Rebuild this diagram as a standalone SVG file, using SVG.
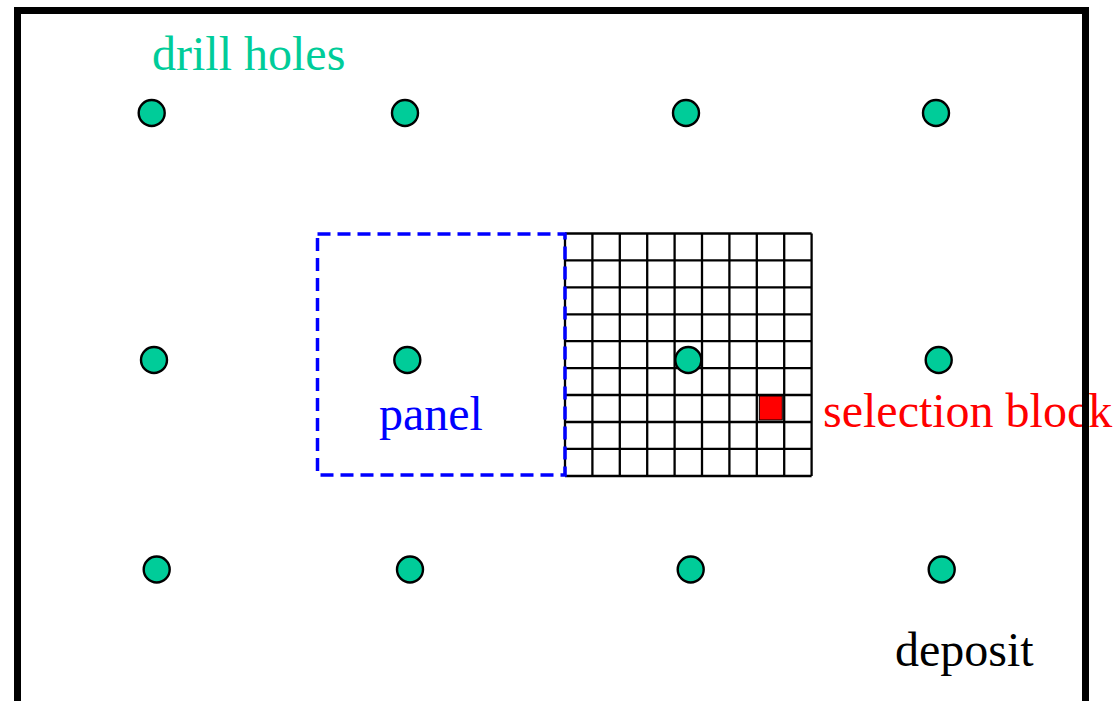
<svg xmlns="http://www.w3.org/2000/svg" width="1115" height="701" viewBox="0 0 1115 701">
<style>
.hole{fill:#00CC99;stroke:#000;stroke-width:2.4}
.grid line{stroke:#000;stroke-width:2.3}
.lbl{font-family:"Liberation Serif","Times New Roman",serif;font-size:48px}
</style>
<rect width="1115" height="701" fill="#fff"/>
<g id="labels">
<text id="drill-holes-label" class="lbl" x="152" y="70" fill="#00CC99">drill holes</text>
<text id="panel-label" class="lbl" x="379" y="430" fill="#0000FF">panel</text>
<text id="selection-label" class="lbl" x="823" y="427" fill="#FF0000">selection block</text>
<text id="deposit-label" class="lbl" x="895" y="666" fill="#000">deposit</text>
</g>
<g id="grid" class="grid">
<line x1="565" y1="233.5" x2="565" y2="476"/>
<line x1="592.4" y1="233.5" x2="592.4" y2="476"/>
<line x1="619.8" y1="233.5" x2="619.8" y2="476"/>
<line x1="647.2" y1="233.5" x2="647.2" y2="476"/>
<line x1="674.6" y1="233.5" x2="674.6" y2="476"/>
<line x1="702" y1="233.5" x2="702" y2="476"/>
<line x1="729.4" y1="233.5" x2="729.4" y2="476"/>
<line x1="756.8" y1="233.5" x2="756.8" y2="476"/>
<line x1="784.2" y1="233.5" x2="784.2" y2="476"/>
<line x1="811.6" y1="233.5" x2="811.6" y2="476"/>
<line x1="565" y1="233.5" x2="811.6" y2="233.5"/>
<line x1="565" y1="260.4" x2="811.6" y2="260.4"/>
<line x1="565" y1="287.3" x2="811.6" y2="287.3"/>
<line x1="565" y1="314.3" x2="811.6" y2="314.3"/>
<line x1="565" y1="341.2" x2="811.6" y2="341.2"/>
<line x1="565" y1="368.1" x2="811.6" y2="368.1"/>
<line x1="565" y1="395" x2="811.6" y2="395"/>
<line x1="565" y1="422" x2="811.6" y2="422"/>
<line x1="565" y1="448.9" x2="811.6" y2="448.9"/>
<line x1="565" y1="476" x2="811.6" y2="476"/>
</g>
<g id="selection-block">
<rect x="759.3" y="396" width="23" height="24" fill="#FF0000" stroke="#000" stroke-width="1"/>
</g>
<g id="panel">
<rect x="317.5" y="234" width="247.5" height="241" fill="none" stroke="#0000FF" stroke-width="3.5" stroke-dasharray="13,7"/>
</g>
<g id="holes">
<circle id="h11" class="hole" cx="151.7" cy="113" r="13"/>
<circle id="h12" class="hole" cx="405" cy="113" r="13"/>
<circle id="h13" class="hole" cx="686" cy="113" r="13"/>
<circle id="h14" class="hole" cx="936" cy="113" r="13"/>
<circle id="h21" class="hole" cx="154" cy="360" r="13"/>
<circle id="h22" class="hole" cx="407.3" cy="360" r="13"/>
<circle id="h23" class="hole" cx="688.3" cy="360" r="13"/>
<circle id="h24" class="hole" cx="938.7" cy="360" r="13"/>
<circle id="h31" class="hole" cx="156.7" cy="569.5" r="13"/>
<circle id="h32" class="hole" cx="410" cy="569.5" r="13"/>
<circle id="h33" class="hole" cx="690.7" cy="569.5" r="13"/>
<circle id="h34" class="hole" cx="941.7" cy="569.5" r="13"/>
</g>
<g id="deposit">
<rect x="17.5" y="10.5" width="1068" height="720" fill="none" stroke="#000" stroke-width="7"/>
</g>
</svg>
